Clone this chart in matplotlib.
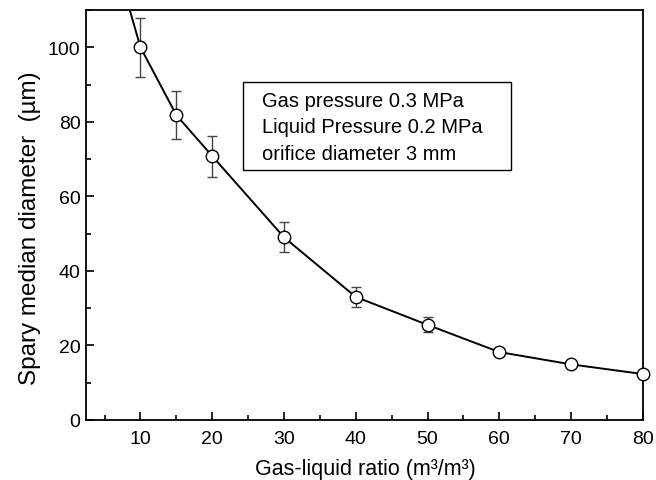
import numpy as np
import matplotlib
matplotlib.use('Agg')
import matplotlib.pyplot as plt
import matplotlib.patches as mpatches
from matplotlib.ticker import MultipleLocator

plt.rcParams['font.family'] = ['Liberation Sans', 'DejaVu Sans']

# data
ratio = [5, 10, 15, 20, 30, 40, 50, 60, 70, 80]
diameter = [133.5, 100.0, 81.8, 70.8, 49.0, 33.0, 25.5, 18.2, 14.9, 12.3]
error = [0, 8.0, 6.5, 5.5, 4.0, 2.7, 2.0, 1.0, 0.8, 0.8]
notes = ['Gas pressure 0.3 MPa', 'Liquid Pressure 0.2 MPa', 'orifice diameter 3 mm']

fig = plt.figure(figsize=(6.56, 4.81), dpi=100)
ax = fig.add_axes([0.131, 0.125, 0.849, 0.852])

# line (the first point lies above the plotted range)
ax.plot(ratio, diameter, color='black', lw=1.4, zorder=2)
ax.errorbar(ratio[1:], diameter[1:], yerr=error[1:], fmt='none',
            ecolor='#444444', elinewidth=1.0, capsize=3.5, capthick=1.0, zorder=3)
ax.plot(ratio[1:], diameter[1:], 'o', ms=9, mfc='white', mec='black',
        mew=1.0, zorder=4, clip_on=False)

ax.set_xlim(2.4, 80)
ax.set_ylim(0, 110)
ax.set_xticks(range(10, 81, 10))
ax.xaxis.set_minor_locator(MultipleLocator(5))
ax.yaxis.set_major_locator(MultipleLocator(20))
ax.yaxis.set_minor_locator(MultipleLocator(10))
ax.tick_params(which='both', direction='in', width=1.2, labelsize=14)
ax.tick_params(which='major', length=6)
ax.tick_params(which='minor', length=3.5)
ax.tick_params(axis='x', pad=7)
ax.tick_params(axis='y', pad=4)
for s in ax.spines.values():
    s.set_linewidth(1.3)

ax.set_xlabel('Gas-liquid ratio (m³/m³)', fontsize=15.5)
ax.set_ylabel('Spary median diameter  (µm)', fontsize=17.5)
ax.xaxis.set_label_coords(0.502, -0.093)
ax.yaxis.set_label_coords(-0.081, 0.47)

# annotation box
ax.add_patch(mpatches.Rectangle((0.282, 0.61), 0.481, 0.214, transform=ax.transAxes,
                                fc='white', ec='black', lw=1.0, zorder=5))
for i, line in enumerate(notes):
    ax.text(0.316, 0.7666 - 0.065 * i, line, transform=ax.transAxes,
            fontsize=14.5, va='baseline', ha='left', zorder=6)

fig.savefig('out.png', dpi=100, facecolor='white')
